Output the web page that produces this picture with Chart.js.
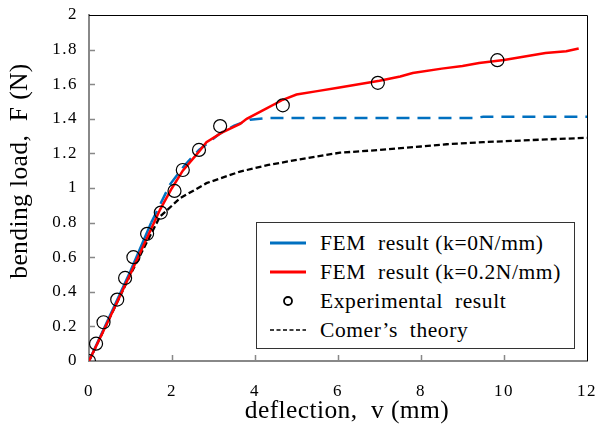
<!DOCTYPE html>
<html>
<head>
<meta charset="utf-8">
<script src="https://cdn.jsdelivr.net/npm/chart.js@4"></script>
<style>
  body { margin: 0; background: #fff; }
  #wrap { position: relative; width: 598px; height: 428px; }
  #legend {
    position: absolute; left: 256px; top: 222px; width: 317px; height: 125px;
    border: 1px solid #333; background: #fff;
    font-family: "Liberation Serif", serif; font-size: 21.5px; letter-spacing: 0.6px; color: #000;
  }
  .row { position: absolute; left: 0; height: 29px; line-height: 29px; white-space: pre; }
  .row .txt { position: absolute; left: 63px; }
</style>
</head>
<body>
<div id="wrap">
  <canvas id="chart" width="598" height="428"></canvas>
  <div id="legend"></div>
</div>
<script>
// series data
const seriesNames = ["FEM  result (k=0N/mm)", "FEM  result (k=0.2N/mm)", "Experimental  result", "Comer\u2019s  theory"];
const xTitle = "deflection,  v (mm)";
const yTitle = "bending load,  F (N)";

const femK0X = [0, 0.5, 1, 1.5, 1.95, 2.3, 2.65, 3.16, 3.5, 3.88, 4.3, 6, 8, 9.3, 9.5, 12];
const femK0Y = [0, 0.26, 0.52, 0.8, 1.02, 1.13, 1.22, 1.316, 1.36, 1.395, 1.405, 1.405, 1.405, 1.405, 1.412, 1.412];

const femK02X = [0, 0.5, 1, 1.5, 1.71, 2.0, 2.26, 2.65, 2.83, 3.2, 3.64, 3.8, 4.28, 4.67, 5, 5.5, 6, 6.5, 7, 7.5, 7.8, 8.5, 9, 9.4, 10, 10.5, 11, 11.5, 11.8];
const femK02Y = [0, 0.25, 0.505, 0.765, 0.874, 1.0, 1.10, 1.21, 1.265, 1.32, 1.37, 1.40, 1.46, 1.51, 1.54, 1.56, 1.58, 1.6, 1.62, 1.645, 1.665, 1.69, 1.705, 1.723, 1.74, 1.76, 1.78, 1.79, 1.806];

const expX = [0, 0.17, 0.35, 0.68, 0.87, 1.07, 1.40, 1.73, 2.06, 2.26, 2.65, 3.16, 4.67, 6.96, 9.84];
const expY = [0, 0.10, 0.224, 0.355, 0.48, 0.60, 0.735, 0.858, 0.983, 1.104, 1.22, 1.358, 1.478, 1.608, 1.739];

const comerX = [0, 0.5, 1, 1.4, 1.71, 2.19, 2.83, 3.64, 4.32, 5.08, 6.05, 7, 8, 8.62, 9.5, 10, 11.03, 12];
const comerY = [0, 0.25, 0.5, 0.69, 0.835, 0.94, 1.028, 1.095, 1.133, 1.166, 1.204, 1.22, 1.24, 1.253, 1.265, 1.27, 1.281, 1.29];

const xTicks = [0, 2, 4, 6, 8, 10, 12];
const yTicks = [0, 0.2, 0.4, 0.6, 0.8, 1, 1.2, 1.4, 1.6, 1.8, 2];

const pts = (xs, ys) => xs.map((x, i) => ({ x: x, y: ys[i] }));
const serif = "'Liberation Serif', 'Times New Roman', serif";
Chart.defaults.font.family = serif;

// frame: black top/right edges, inward tick marks, axis titles
const framePlugin = {
  id: "frame",
  beforeDraw(chart) {
    chart.ctx.letterSpacing = "1.5px";
  },
  afterDraw(chart) {
    const { ctx, chartArea: a, scales } = chart;
    ctx.save();
    ctx.strokeStyle = "#000";
    ctx.lineWidth = 1;
    ctx.beginPath();
    ctx.moveTo(a.left, a.top + 0.5);
    ctx.lineTo(a.right + 0.5, a.top + 0.5);
    ctx.lineTo(a.right + 0.5, a.bottom);
    ctx.stroke();
    ctx.strokeStyle = "#888";
    ctx.lineWidth = 1.5;
    ctx.beginPath();
    xTicks.slice(1, -1).forEach((v) => {
      const px = Math.round(scales.x.getPixelForValue(v)) + 0.5;
      ctx.moveTo(px, a.bottom);
      ctx.lineTo(px, a.bottom - 6);
    });
    yTicks.slice(1, -1).forEach((v) => {
      const py = Math.round(scales.y.getPixelForValue(v)) + 0.5;
      ctx.moveTo(a.left, py);
      ctx.lineTo(a.left + 6, py);
    });
    ctx.stroke();

    ctx.fillStyle = "#000";
    ctx.font = "25.5px " + serif;
    ctx.letterSpacing = "0.4px";
    ctx.textAlign = "center";
    ctx.textBaseline = "middle";
    ctx.fillText(xTitle, 347, 411);
    ctx.translate(20, 171);
    ctx.rotate(-Math.PI / 2);
    ctx.fillText(yTitle, 0, 0);
    ctx.restore();
    ctx.letterSpacing = "0px";
  },
};

const ctx = document.getElementById("chart").getContext("2d");
const chart = new Chart(ctx, {
  type: "scatter",
  data: {
    datasets: [
      {
        label: seriesNames[1],
        data: pts(femK02X, femK02Y),
        showLine: true,
        borderColor: "#ff0000",
        borderWidth: 2.5,
        pointRadius: 0,
        order: 2,
      },
      {
        label: seriesNames[0],
        data: pts(femK0X, femK0Y),
        showLine: true,
        borderColor: "#0070c0",
        borderWidth: 2.5,
        pointRadius: 0,
        order: 3,
        segment: {
          borderDash: (c) => (c.p0.parsed.x >= 1.5 ? [13, 8] : undefined),
        },
      },
      {
        label: seriesNames[2],
        data: pts(expX, expY),
        showLine: false,
        borderColor: "#000",
        backgroundColor: "rgba(0,0,0,0)",
        borderWidth: 1.2,
        pointRadius: 6.5,
        order: 1,
      },
      {
        label: seriesNames[3],
        data: pts(comerX, comerY),
        showLine: true,
        borderColor: "#000",
        borderWidth: 2.3,
        borderDash: [6, 3],
        pointRadius: 0,
        order: 4,
      },
    ],
  },
  options: {
    responsive: false,
    animation: false,
    devicePixelRatio: 1,
    layout: { padding: { top: 15, right: 11, left: 0, bottom: 0 } },
    plugins: { legend: { display: false }, tooltip: { enabled: false } },
    scales: {
      x: {
        type: "linear",
        min: 0,
        max: 12,
        afterBuildTicks: (s) => { s.ticks = xTicks.map((v) => ({ value: v })); },
        afterFit: (s) => { s.height = 67; },
        grid: { display: false, drawTicks: true, tickLength: 20 },
        border: { color: "#888", width: 2 },
        ticks: { color: "#000", font: { family: serif, size: 17 }, padding: 0, callback: (v) => String(v) },
      },
      y: {
        type: "linear",
        min: 0,
        max: 2,
        afterBuildTicks: (s) => { s.ticks = yTicks.map((v) => ({ value: v })); },
        afterFit: (s) => { s.width = 89; },
        grid: { display: false, drawTicks: true, tickLength: 11 },
        border: { color: "#888", width: 2 },
        ticks: { color: "#000", font: { family: serif, size: 17 }, padding: 0, callback: (v) => String(Math.round(v * 10) / 10) },
      },
    },
  },
  plugins: [framePlugin],
});

// legend box inside the plot, built from the dataset names
const legend = document.getElementById("legend");
const samples = [
  '<svg width="40" height="10"><line x1="2" y1="5" x2="38" y2="5" stroke="#0070c0" stroke-width="3"/></svg>',
  '<svg width="40" height="10"><line x1="2" y1="5" x2="38" y2="5" stroke="#ff0000" stroke-width="3"/></svg>',
  '<svg width="40" height="10"><circle cx="20" cy="5" r="4" fill="none" stroke="#000" stroke-width="1.8"/></svg>',
  '<svg width="40" height="10"><line x1="2" y1="5" x2="38" y2="5" stroke="#000" stroke-width="1.5" stroke-dasharray="4,2.5"/></svg>',
];
seriesNames.forEach((name, i) => {
  const row = document.createElement("div");
  row.className = "row";
  row.style.top = (6 + i * 29) + "px";
  row.innerHTML = '<span style="position:absolute;left:11px;top:9px;line-height:0">' + samples[i] +
    '</span><span class="txt">' + name + "</span>";
  legend.appendChild(row);
});
</script>
</body>
</html>
